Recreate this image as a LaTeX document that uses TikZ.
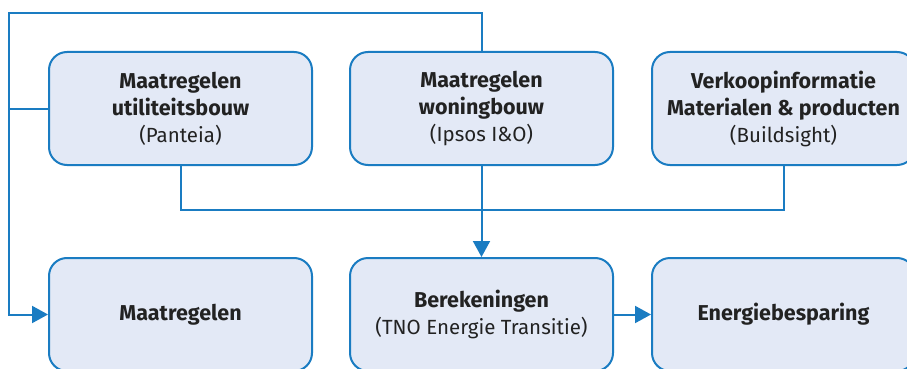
\documentclass[tikz,border=0pt]{standalone}
\usepackage{fontspec}
\setmainfont{Fira Sans}
\usetikzlibrary{arrows.meta}
\definecolor{flowblue}{HTML}{1A7CC2}
\definecolor{boxfill}{HTML}{E3E9F6}
\definecolor{inkdark}{HTML}{222222}
\tikzset{
  stepbox/.style={draw=flowblue, line width=2pt, fill=boxfill, rounded corners=18pt,
    minimum width=263pt, minimum height=113pt, align=center, inner sep=0pt,
    text=inkdark, font=\fontsize{20.5}{27}\selectfont},
  link/.style={draw=flowblue, line width=2pt},
  flow/.style={link, -{Triangle[length=16pt,width=17pt]}},
}
\newcommand{\bt}[1]{{\fontsize{21.5}{27}\selectfont\bfseries #1}}
\begin{document}
\begin{tikzpicture}[x=1pt,y=-1pt]
  \clip (0,0) rectangle (907,369);
  \fill[white] (0,0) rectangle (907,369);

  % top row
  \node[stepbox] (util) at (180.5,108.5) {\bt{Maatregelen}\\\bt{utiliteitsbouw}\\(Panteia)};
  \node[stepbox] (won)  at (481.5,108.5) {\bt{Maatregelen}\\\bt{woningbouw}\\(Ipsos I\&O)};
  \node[stepbox] (verk) at (783.5,108.5) {\bt{Verkoopinformatie}\\\bt{Materialen \& producten}\\(Buildsight)};

  % bottom row
  \node[stepbox] (maat) at (180.5,314.5) {\bt{Maatregelen}};
  \node[stepbox] (ber)  at (481.5,314.5) {\bt{Berekeningen}\\(TNO Energie Transitie)};
  \node[stepbox] (ener) at (783.5,314.5) {\bt{Energiebesparing}};

  % routing points
  \coordinate (tl) at (9,13);
  \coordinate (bus) at (481.5,210);

  % outer loop from woningbouw to Maatregelen
  \draw[flow] (won.north) |- (tl) |- (maat.west);
  \draw[link] (util.west) -- (util.west -| tl);

  % bus between utiliteitsbouw and verkoopinformatie
  \draw[link] (util.south) |- (bus) -| (verk.south);

  % main flow
  \draw[flow] (won.south) -- (ber.north);
  \draw[flow] (ber.east) -- (ener.west);
\end{tikzpicture}
\end{document}
